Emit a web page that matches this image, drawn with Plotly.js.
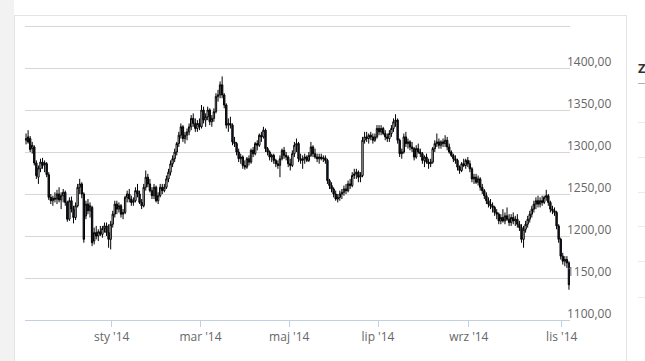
<!DOCTYPE html>
<html>
<head>
<meta charset="utf-8">
<script src="https://cdn.plot.ly/plotly-3.0.1.min.js"></script>
<style>
  html, body { margin:0; padding:0; background:#ffffff; }
  #wrap { position:relative; width:645px; height:361px; overflow:hidden; font-family:"Open Sans", sans-serif; }
  #strip { position:absolute; left:0; top:0; width:14px; height:361px; background:#f2f2f2; }
  #panel { position:absolute; left:14px; top:15px; width:611px; height:400px;
           border-left:1px solid #e4e4e4; border-top:1px solid #e4e4e4; border-right:1px solid #e4e4e4; }
  .rl { position:absolute; left:638px; width:10px; height:1px; background:#ebebeb; }
  #zlab { position:absolute; left:638px; top:59px; font-weight:bold; font-size:13px; color:#333; }
  #chart { position:absolute; left:0; top:0; width:645px; height:361px; }
</style>
</head>
<body>
<div id="wrap">
  <div id="strip"></div>
  <div id="panel"></div>
  <div id="zlab">Z</div>
  <div class="rl" style="top:83px;background:#b0b0b0"></div>
  <div class="rl" style="top:122px"></div>
  <div class="rl" style="top:157px"></div>
  <div class="rl" style="top:192px"></div>
  <div class="rl" style="top:226px"></div>
  <div class="rl" style="top:261px"></div>
  <div class="rl" style="top:297px"></div>
  <div id="chart"></div>
</div>
<script>
// First trading day; one candle per weekday (one line = one week)
const startDate = '2013-11-04';

const opens = [
1314,1318,1316,1304,1306,
1287,1270,1280,1288,1285,
1286,1273,1246,1242,1245,
1244,1250,1243,1248,1252,
1240,1220,1242,1232,1222,
1236,1258,1262,1250,1224,
1238,1230,1234,1194,1204,
1200,1205,1202,1209,1212,
1204,1196,1214,1226,1238,
1232,1236,1226,1228,1246,
1250,1244,1240,1242,1254,
1250,1240,1236,1258,1270,
1262,1254,1248,1258,1242,
1248,1258,1254,1258,1268,
1276,1286,1292,1300,1310,
1320,1330,1316,1320,1324,
1330,1340,1334,1328,1334,
1330,1350,1338,1342,1350,
1336,1340,1348,1366,1368,
1380,1368,1356,1332,1334,
1332,1312,1310,1300,1292,
1294,1284,1282,1292,1288,
1302,1298,1310,1308,1320,
1318,1326,1304,1300,1294,
1296,1290,1286,1284,1292,
1302,1296,1294,1286,1284,
1298,1308,1310,1292,1290,
1292,1294,1290,1296,1306,
1298,1294,1292,1294,1292,
1293,1290,1266,1260,1256,
1250,1244,1246,1250,1252,
1256,1254,1262,1260,1272,
1274,1276,1270,1272,1314,
1318,1316,1320,1318,1314,
1318,1328,1324,1328,1322,
1318,1316,1322,1328,1336,
1338,1314,1298,1300,1318,
1310,1312,1306,1304,1294,
1304,1300,1298,1290,1294,
1288,1286,1288,1304,1310,
1312,1308,1312,1310,1314,
1306,1300,1296,1292,1290,
1282,1278,1286,1284,1290,
1286,1280,1268,1270,1264,
1268,1258,1254,1248,1242,
1238,1236,1234,1228,1226,
1218,1222,1218,1224,1220,
1216,1222,1218,1220,1214,
1210,1196,1208,1214,1220,
1226,1232,1238,1242,1238,
1242,1240,1246,1248,1240,
1232,1230,1228,1212,1196,
1176,1170,1172,1168
];

const highs = [
1322,1326,1319,1312,1308,
1290,1284,1292,1293,1290,
1288,1276,1250,1248,1252,
1255,1258,1252,1256,1254,
1242,1246,1247,1236,1240,
1262,1268,1264,1252,1242,
1244,1240,1236,1210,1212,
1208,1212,1212,1216,1216,
1214,1218,1230,1242,1242,
1240,1238,1232,1248,1254,
1256,1248,1246,1258,1262,
1254,1244,1262,1278,1274,
1268,1258,1262,1260,1252,
1262,1262,1262,1272,1280,
1290,1296,1304,1312,1324,
1334,1332,1324,1328,1334,
1344,1346,1340,1338,1340,
1356,1354,1346,1354,1352,
1344,1352,1370,1374,1384,
1390,1370,1358,1340,1342,
1334,1318,1312,1304,1298,
1296,1290,1294,1296,1304,
1306,1312,1314,1322,1324,
1330,1328,1306,1302,1298,
1298,1292,1290,1296,1304,
1306,1300,1296,1292,1302,
1312,1316,1312,1298,1296,
1298,1296,1300,1312,1308,
1304,1298,1298,1298,1296,
1296,1292,1268,1264,1258,
1254,1250,1254,1256,1260,
1262,1266,1268,1276,1280,
1280,1278,1276,1318,1324,
1324,1322,1324,1322,1322,
1332,1332,1332,1330,1326,
1322,1326,1332,1340,1345,
1340,1316,1304,1322,1324,
1316,1314,1312,1306,1308,
1310,1304,1300,1296,1298,
1292,1292,1306,1314,1322,
1316,1314,1316,1320,1318,
1310,1302,1298,1296,1292,
1284,1288,1292,1292,1294,
1290,1282,1274,1274,1272,
1270,1262,1256,1252,1246,
1244,1240,1236,1232,1228,
1226,1232,1228,1234,1226,
1226,1228,1224,1226,1218,
1214,1212,1218,1224,1230,
1236,1242,1246,1248,1246,
1248,1248,1255,1250,1242,
1236,1234,1230,1214,1198,
1180,1176,1176,1170
];

const lows = [
1309,1310,1300,1298,1284,
1268,1262,1276,1280,1276,
1270,1243,1238,1236,1240,
1238,1240,1232,1240,1236,
1217,1218,1228,1215,1219,
1234,1250,1245,1192,1220,
1226,1222,1188,1190,1196,
1194,1200,1198,1204,1200,
1186,1184,1210,1222,1226,
1228,1222,1220,1226,1240,
1240,1236,1236,1240,1246,
1238,1232,1234,1254,1258,
1252,1244,1244,1240,1238,
1246,1250,1252,1256,1264,
1272,1282,1288,1296,1306,
1316,1312,1310,1314,1320,
1326,1330,1324,1324,1326,
1328,1334,1330,1338,1332,
1330,1336,1346,1360,1364,
1364,1352,1328,1324,1328,
1308,1306,1296,1288,1286,
1280,1279,1280,1284,1286,
1294,1296,1302,1306,1312,
1316,1300,1296,1290,1288,
1286,1282,1280,1270,1290,
1292,1290,1282,1278,1282,
1294,1300,1288,1286,1280,
1286,1288,1288,1294,1294,
1292,1288,1286,1290,1288,
1286,1262,1256,1252,1246,
1242,1240,1242,1244,1248,
1250,1252,1256,1258,1268,
1268,1264,1264,1270,1310,
1312,1310,1314,1310,1312,
1316,1320,1320,1320,1314,
1312,1312,1318,1324,1330,
1310,1294,1292,1298,1306,
1304,1302,1300,1290,1292,
1298,1294,1286,1282,1286,
1280,1282,1286,1300,1306,
1304,1304,1306,1306,1302,
1298,1294,1288,1286,1278,
1274,1276,1282,1280,1282,
1276,1264,1262,1262,1260,
1254,1250,1244,1238,1234,
1232,1228,1224,1220,1214,
1214,1216,1214,1218,1212,
1212,1214,1212,1210,1206,
1192,1186,1204,1210,1216,
1222,1228,1232,1234,1234,
1236,1238,1242,1236,1228,
1226,1224,1208,1192,1172,
1166,1164,1162,1136
];

const closes = [
1316,1312,1303,1308,1287,
1272,1281,1288,1284,1287,
1273,1246,1242,1245,1244,
1250,1243,1248,1252,1240,
1220,1242,1232,1222,1236,
1258,1262,1250,1196,1238,
1230,1236,1192,1204,1200,
1205,1202,1209,1212,1204,
1196,1214,1226,1238,1232,
1236,1226,1228,1246,1250,
1244,1240,1242,1254,1250,
1240,1236,1258,1270,1262,
1254,1248,1258,1242,1248,
1258,1254,1258,1268,1276,
1286,1292,1300,1310,1320,
1330,1316,1320,1324,1330,
1340,1334,1328,1334,1330,
1350,1338,1342,1350,1336,
1340,1348,1366,1368,1380,
1368,1356,1332,1334,1332,
1312,1310,1300,1292,1294,
1284,1282,1292,1288,1302,
1298,1310,1308,1320,1318,
1326,1304,1300,1294,1296,
1290,1286,1284,1292,1302,
1296,1294,1286,1284,1298,
1308,1310,1292,1290,1292,
1294,1290,1296,1306,1298,
1294,1292,1294,1292,1293,
1290,1266,1260,1256,1250,
1244,1246,1250,1252,1256,
1254,1262,1260,1272,1274,
1276,1270,1272,1314,1318,
1316,1320,1318,1314,1318,
1328,1324,1328,1322,1318,
1316,1322,1328,1336,1338,
1314,1298,1300,1318,1310,
1312,1306,1304,1294,1304,
1300,1298,1290,1294,1288,
1286,1288,1304,1310,1312,
1308,1312,1310,1314,1306,
1300,1296,1292,1290,1282,
1278,1286,1284,1290,1286,
1280,1268,1270,1264,1268,
1258,1254,1248,1242,1238,
1236,1234,1228,1226,1218,
1222,1218,1224,1220,1216,
1222,1218,1220,1214,1210,
1196,1208,1214,1220,1226,
1232,1238,1242,1238,1242,
1240,1246,1248,1240,1232,
1230,1228,1212,1196,1176,
1170,1172,1168,1142
];

const monthTicks = ['2014-01-01','2014-03-03','2014-05-01','2014-07-01','2014-09-01','2014-11-03'];
const monthLabels = ["sty '14","mar '14","maj '14","lip '14","wrz '14","lis '14"];
const priceTicks = [1100,1150,1200,1250,1300,1350,1400,1450];
const priceLabels = ['1100,00','1150,00','1200,00','1250,00','1300,00','1350,00','1400,00',''];

function tradingDays(start, n) {
  const out = [];
  const d = new Date(start + 'T12:00:00Z');
  while (out.length < n) {
    const wd = d.getUTCDay();
    if (wd !== 0 && wd !== 6) out.push(d.toISOString().slice(0,10) + ' 12:00');
    d.setUTCDate(d.getUTCDate() + 1);
  }
  return out;
}
const dates = tradingDays(startDate, closes.length);

const trace = {
  type: 'candlestick',
  x: dates, open: opens, high: highs, low: lows, close: closes,
  whiskerwidth: 0,
  increasing: { line: { color: '#000000', width: 1 }, fillcolor: '#ffffff' },
  decreasing: { line: { color: '#000000', width: 1 }, fillcolor: '#17243a' },
  hoverinfo: 'skip', showlegend: false
};

const layout = {
  width: 645, height: 361,
  margin: { l: 25, r: 75, t: 25, b: 41 },
  paper_bgcolor: 'rgba(0,0,0,0)', plot_bgcolor: 'rgba(0,0,0,0)',
  showlegend: false,
  boxgap: 0.05,
  font: { family: '"Open Sans", sans-serif', size: 12, color: '#666666' },
  xaxis: {
    type: 'date',
    range: ['2013-11-04 00:00', '2014-11-07 00:00'],
    rangebreaks: [{ bounds: ['sat', 'mon'] }],
    rangeslider: { visible: false },
    tickmode: 'array', tickvals: monthTicks, ticktext: monthLabels,
    showgrid: false, zeroline: false,
    showline: true, linecolor: '#c0d0e0', linewidth: 1,
    ticks: 'outside', ticklen: 6, tickwidth: 1, tickcolor: '#c0d0e0',
    tickfont: { family: '"Open Sans", sans-serif', size: 12, color: '#666666' },
    fixedrange: true
  },
  yaxis: {
    range: [1100, 1451.2],
    side: 'right',
    tickmode: 'array', tickvals: priceTicks, ticktext: priceLabels,
    showgrid: true, gridcolor: '#d6d6d6', gridwidth: 1,
    zeroline: false, showline: false, ticks: '',
    ticklabelstandoff: -4, ticklabelshift: -6,
    tickfont: { family: '"Open Sans", sans-serif', size: 12, color: '#666666' },
    fixedrange: true
  }
};

Plotly.newPlot('chart', [trace], layout, { staticPlot: true, displayModeBar: false });
</script>
</body>
</html>
